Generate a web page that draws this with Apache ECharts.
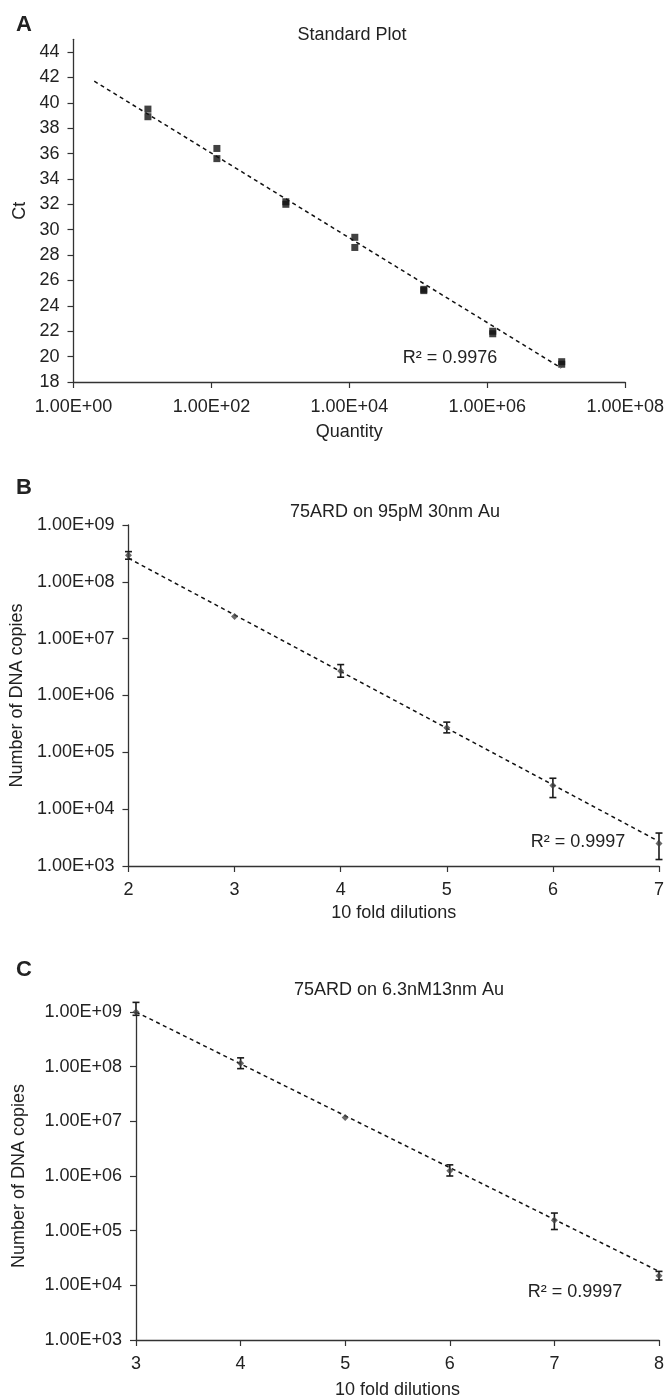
<!DOCTYPE html>
<html><head><meta charset="utf-8">
<script src="https://cdn.jsdelivr.net/npm/echarts@6/dist/echarts.min.js"></script>
<style>html,body{margin:0;padding:0;background:#fff}#c{width:667px;height:1400px}</style>
</head><body><div id="c"></div>
<script>
// ---------- Panel A: Standard Plot ----------
const aQuantity = [12, 12, 120, 120, 1200, 1200, 12000, 12000, 120000, 120000, 1200000, 1200000, 12000000, 12000000];
const aCt = [39.5, 38.9, 36.4, 35.6, 32.2, 32.0, 29.4, 28.6, 25.3, 25.2, 22.0, 21.8, 19.6, 19.4];
const aTrendQuantity = [2, 11800000];
const aTrendCt = [41.7, 19.1];
const aYTicks = [18, 20, 22, 24, 26, 28, 30, 32, 34, 36, 38, 40, 42, 44];
const aR2 = 'R\u00b2 = 0.9976';

// ---------- Panel B: 75ARD on 95pM 30nm Au ----------
const bDilution = [2, 3, 4, 5, 6, 7];
const bCopies = [2.95e8, 2.45e7, 2.7e6, 2.7e5, 2.6e4, 2.5e3];
const bErrLow = [2.5e8, null, 2.1e6, 2.2e5, 1.6e4, 1.3e3];
const bErrHigh = [3.4e8, null, 3.5e6, 3.4e5, 3.5e4, 3.8e3];
const bTrendDilution = [2, 7];
const bTrendCopies = [2.6e8, 2.7e3];
const bR2 = 'R\u00b2 = 0.9997';

// ---------- Panel C: 75ARD on 6.3nM13nm Au ----------
const cDilution = [3, 4, 5, 6, 7, 8];
const cCopies = [1.0e9, 1.15e8, 1.17e7, 1.25e6, 1.55e5, 1.5e4];
const cErrLow = [8.7e8, 9.2e7, null, 1.0e6, 1.05e5, 1.25e4];
const cErrHigh = [1.5e9, 1.45e8, null, 1.6e6, 2.1e5, 1.8e4];
const cTrendDilution = [3, 8];
const cTrendCopies = [1.0e9, 1.8e4];
const cR2 = 'R\u00b2 = 0.9997';

const titles = ['Standard Plot', '75ARD on 95pM 30nm Au', '75ARD on 6.3nM13nm Au'];
const panelLetters = ['A', 'B', 'C'];

const FONT = '"Liberation Sans", Arial, Helvetica, sans-serif';
const FS = 18;
const TXT = '#222';
const AX = '#333';

function fmtE(v) {
  if (!(v > 0)) return '';
  let e = Math.floor(Math.log10(v) + 1e-9);
  let m = v / Math.pow(10, e);
  return m.toFixed(2) + 'E' + (e < 0 ? '-' : '+') + String(Math.abs(e)).padStart(2, '0');
}
function zip(a, b) { return a.map((v, i) => [v, b[i]]); }
function errData(x, lo, hi) {
  const out = [];
  x.forEach((v, i) => { if (lo[i] != null && hi[i] != null) out.push([v, lo[i], hi[i]]); });
  return out;
}
function errSeries(xi, data) {
  return {
    type: 'custom', xAxisIndex: xi, yAxisIndex: xi, data: data, z: 3,
    renderItem: function (params, api) {
      const x = api.value(0);
      const p1 = api.coord([x, api.value(1)]);
      const p2 = api.coord([x, api.value(2)]);
      const w = 3.5;
      const st = { stroke: '#1a1a1a', lineWidth: 1.6 };
      return {
        type: 'group', children: [
          { type: 'line', shape: { x1: p1[0], y1: p1[1], x2: p2[0], y2: p2[1] }, style: st },
          { type: 'line', shape: { x1: p1[0] - w, y1: p1[1], x2: p1[0] + w, y2: p1[1] }, style: st },
          { type: 'line', shape: { x1: p2[0] - w, y1: p2[1], x2: p2[0] + w, y2: p2[1] }, style: st }
        ]
      };
    }
  };
}
const axisLineCfg = { show: true, onZero: false, lineStyle: { color: AX, width: 1.3 } };
const tickCfg = { show: true, inside: false, length: 6, lineStyle: { color: AX, width: 1.2 } };
const lblCfg = { color: TXT, fontSize: FS, fontFamily: FONT };
const nameCfg = { color: TXT, fontSize: FS, fontFamily: FONT };

function trend(xi, xs, ys) {
  return {
    type: 'line', xAxisIndex: xi, yAxisIndex: xi, data: zip(xs, ys), symbol: 'none', z: 2,
    lineStyle: { color: '#111', width: 1.5, type: [4, 3.5] }, silent: true
  };
}
function txt(x, y, text, font) {
  return { type: 'text', x: x, y: y, style: { text: text, font: font, fill: TXT, align: 'center', verticalAlign: 'middle', textAlign: 'center', textVerticalAlign: 'middle' } };
}

const chart = echarts.init(document.getElementById('c'), null, { renderer: 'canvas' });
const option = {
  animation: false,
  backgroundColor: '#fff',
  grid: [
    { left: 73.5, top: 39.3, width: 553.5, height: 342.7 },
    { left: 128, top: 525, width: 532, height: 341 },
    { left: 136, top: 1012, width: 525, height: 331 }
  ],
  xAxis: [
    {
      gridIndex: 0, type: 'log', logBase: 10, min: 1, max: 1e8, interval: 2, splitNumber: 4,
      name: 'Quantity', nameLocation: 'middle', nameGap: 41, nameTextStyle: nameCfg,
      axisLine: axisLineCfg, axisTick: tickCfg, splitLine: { show: false }, minorTick: { show: false },
      axisLabel: Object.assign({ margin: 16, formatter: fmtE, showMinLabel: true, showMaxLabel: true, hideOverlap: false }, lblCfg)
    },
    {
      gridIndex: 1, type: 'value', min: 2, max: 7, interval: 1,
      name: '10 fold dilutions', nameLocation: 'middle', nameGap: 38, nameTextStyle: nameCfg,
      axisLine: axisLineCfg, axisTick: tickCfg, splitLine: { show: false },
      axisLabel: Object.assign({ margin: 15 }, lblCfg)
    },
    {
      gridIndex: 2, type: 'value', min: 3, max: 8, interval: 1,
      name: '10 fold dilutions', nameLocation: 'middle', nameGap: 41, nameTextStyle: nameCfg,
      axisLine: axisLineCfg, axisTick: tickCfg, splitLine: { show: false },
      axisLabel: Object.assign({ margin: 15 }, lblCfg)
    }
  ],
  yAxis: [
    {
      gridIndex: 0, type: 'value', min: 18, max: 45,
      name: 'Ct', nameLocation: 'middle', nameGap: 44, nameTextStyle: nameCfg,
      axisLine: axisLineCfg, splitLine: { show: false },
      axisTick: Object.assign({ customValues: aYTicks }, tickCfg),
      axisLabel: Object.assign({ margin: 14, customValues: aYTicks }, lblCfg)
    },
    {
      gridIndex: 1, type: 'log', logBase: 10, min: 1e3, max: 1e9, interval: 1,
      name: 'Number of DNA copies', nameLocation: 'middle', nameGap: 100, nameTextStyle: nameCfg,
      axisLine: axisLineCfg, axisTick: tickCfg, splitLine: { show: false }, minorTick: { show: false },
      axisLabel: Object.assign({ margin: 14, formatter: fmtE }, lblCfg)
    },
    {
      gridIndex: 2, type: 'log', logBase: 10, min: 1e3, max: 1e9, interval: 1,
      name: 'Number of DNA copies', nameLocation: 'middle', nameGap: 108, nameTextStyle: nameCfg,
      axisLine: axisLineCfg, axisTick: tickCfg, splitLine: { show: false }, minorTick: { show: false },
      axisLabel: Object.assign({ margin: 14, formatter: fmtE }, lblCfg)
    }
  ],
  series: [
    trend(0, aTrendQuantity, aTrendCt),
    {
      type: 'scatter', xAxisIndex: 0, yAxisIndex: 0, data: zip(aQuantity, aCt),
      symbol: 'rect', symbolSize: 7, itemStyle: { color: '#111' }, z: 4
    },
    trend(1, bTrendDilution, bTrendCopies),
    errSeries(1, errData(bDilution, bErrLow, bErrHigh)),
    {
      type: 'scatter', xAxisIndex: 1, yAxisIndex: 1, data: zip(bDilution, bCopies),
      symbol: 'diamond', symbolSize: 7, itemStyle: { color: '#444' }, z: 4
    },
    trend(2, cTrendDilution, cTrendCopies),
    errSeries(2, errData(cDilution, cErrLow, cErrHigh)),
    {
      type: 'scatter', xAxisIndex: 2, yAxisIndex: 2, data: zip(cDilution, cCopies),
      symbol: 'diamond', symbolSize: 7, itemStyle: { color: '#444' }, z: 4
    }
  ],
  graphic: [
    Object.assign(txt(24, 25, panelLetters[0], 'bold 22px ' + FONT), {}),
    txt(24, 488, panelLetters[1], 'bold 22px ' + FONT),
    txt(24, 970, panelLetters[2], 'bold 22px ' + FONT),
    txt(352, 35, titles[0], FS + 'px ' + FONT),
    txt(395, 512, titles[1], FS + 'px ' + FONT),
    txt(399, 990, titles[2], FS + 'px ' + FONT),
    txt(450, 358, aR2, FS + 'px ' + FONT),
    txt(578, 842, bR2, FS + 'px ' + FONT),
    txt(575, 1292, cR2, FS + 'px ' + FONT)
  ]
};
chart.setOption(option);
</script>
</body></html>
